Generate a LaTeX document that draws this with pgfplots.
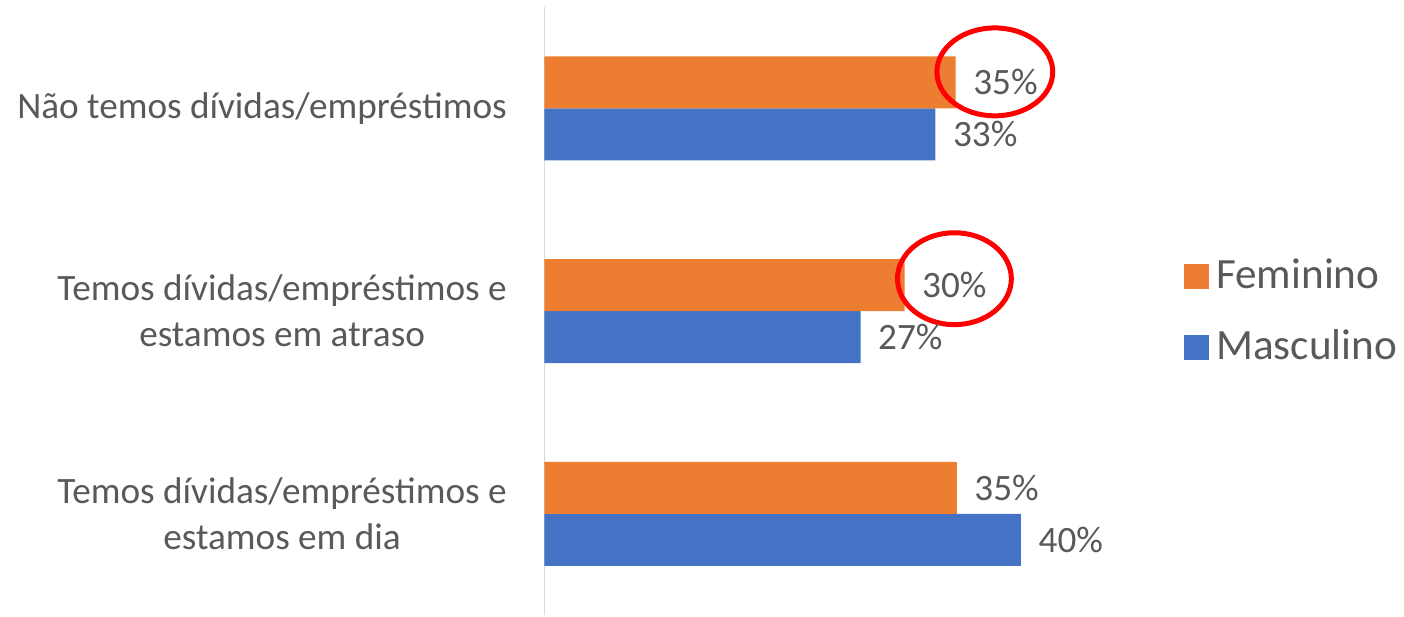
\documentclass[border=0pt]{standalone}
\usepackage{fontspec}
\setmainfont{Carlito}
\usepackage{pgfplots}
\pgfplotsset{compat=1.18}
\definecolor{fem}{HTML}{ED7D31}
\definecolor{masc}{HTML}{4472C4}
\definecolor{txt}{HTML}{595959}
\definecolor{axisgray}{HTML}{D9D9D9}
\begin{document}
\begin{tikzpicture}
\begin{axis}[
  scale only axis,
  width=59.5mm, height=60.9mm,
  xbar, bar width=5.2mm,
  xmin=0, xmax=50, ymin=-0.5, ymax=2.5,
  axis lines*=left, separate axis lines,
  x axis line style={draw=none},
  y axis line style={draw=axisgray, line width=0.15mm},
  xtick=\empty,
  ytick={0,1,2},
  yticklabels={{Temos dívidas/empréstimos e\\estamos em dia},
               {Temos dívidas/empréstimos e\\estamos em atraso},
               {Não temos dívidas/empréstimos}},
  major tick length=0pt,
  yticklabel style={font=\fontsize{10.6}{13.1}\selectfont, text=txt,
                    align=center, inner sep=0pt, xshift=-3.7mm},
  point meta=x,
  nodes near coords={\pgfmathprintnumber[fixed,precision=0,assume math mode=true]{\pgfplotspointmeta}\%},
  nodes near coords style={font=\fontsize{10.6}{13}\selectfont, text=txt,
                           anchor=west, inner sep=0pt, xshift=1.7mm},
  clip=false,
  reverse legend,
  legend style={at={(1.0756,0.499)}, anchor=west, draw=none, fill=none,
                font=\fontsize{12.3}{14}\selectfont, text=txt,
                inner sep=0pt, row sep=2.2mm, legend cell align=left},
  legend image code/.code={\fill[#1] (0mm,-1.25mm) rectangle (2.5mm,1.25mm);},
]
\addplot[fill=masc, draw=none, bar shift=-2.6mm]
  coordinates {(40.1,0) (26.6,1) (32.9,2)};
\addplot[fill=fem, draw=none, bar shift=2.6mm]
  coordinates {(34.7,0) (30.3,1) (34.6,2)};
\legend{Masculino, Feminino}
\draw[red, line width=0.5mm] (axis cs:37.9,2.18) ellipse [x radius=5.8mm, y radius=4.4mm];
\draw[red, line width=0.5mm] (axis cs:34.5,1.16) ellipse [x radius=5.7mm, y radius=4.6mm];
\coordinate (tl) at (rel axis cs:0,1);
\coordinate (bl) at (rel axis cs:0,0);
\end{axis}
\path (tl) ++(-54.5mm,0.7mm) coordinate (p1);
\path (bl) ++(85.9mm,-0.1mm) coordinate (p2);
\path (p1) (p2);
\end{tikzpicture}
\end{document}
